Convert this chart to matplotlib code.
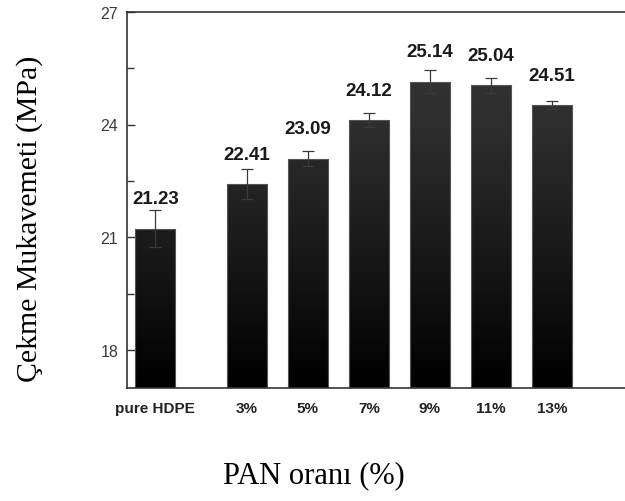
import numpy as np
import matplotlib.pyplot as plt
from matplotlib.colors import LinearSegmentedColormap

labels = ['pure HDPE', '3%', '5%', '7%', '9%', '11%', '13%']
positions = [0, 1.5, 2.5, 3.5, 4.5, 5.5, 6.5]
strength = [21.23, 22.41, 23.09, 24.12, 25.14, 25.04, 24.51]
errors = [0.49, 0.40, 0.20, 0.19, 0.30, 0.20, 0.11]

y_min, y_max = 17, 27
bar_width = 0.66

plt.rcParams['font.family'] = 'Liberation Sans'

fig = plt.figure(figsize=(6.25, 5.02), dpi=100)
ax = fig.add_axes([0.2027, 0.225, 0.7973, 0.75])

# dark gray at the top fading to black at the base
shade = LinearSegmentedColormap.from_list(
    'shade', [(0.0, '#000000'), (0.35, '#181818'), (0.7, '#2e2e2e'), (1.0, '#373737')])
grad = np.linspace(0, 1, 256).reshape(-1, 1)

bars = ax.bar(positions, strength, width=bar_width, bottom=0,
              color='none', edgecolor='#555555', linewidth=0.8, zorder=2)
for bar in bars:
    x0 = bar.get_x()
    img = ax.imshow(grad, cmap=shade, origin='lower', aspect='auto',
                    extent=[x0, x0 + bar.get_width(), y_min, y_max],
                    zorder=1, interpolation='bicubic')
    img.set_clip_path(bar)

ax.errorbar(positions, strength, yerr=errors, fmt='none', ecolor='#3a3a3a',
            elinewidth=0.9, capsize=4, capthick=0.9, zorder=3)

for x, v in zip(positions, strength):
    ax.annotate(f'{v:.2f}', (x, v), xytext=(0, 21.5), textcoords='offset points',
                ha='center', va='center', fontsize=13.5, fontweight='bold',
                color='#1a1a1a')

ax.set_xlim(-0.47, 7.70)
ax.set_ylim(y_min, y_max)
ax.set_xticks(positions)
ax.set_xticklabels(labels, fontsize=11, fontweight='bold', color='#222222')
ax.set_yticks([18, 21, 24, 27])
ax.set_yticks([19.5, 22.5, 25.5], minor=True)
ax.tick_params(axis='x', length=0, pad=9)
ax.tick_params(axis='y', which='both', direction='in', length=6, width=1,
               color='#333333', labelsize=11.5, labelcolor='#3a3a3a', pad=6)
ax.tick_params(axis='y', which='minor', length=5)

for side in ['left', 'top', 'bottom']:
    ax.spines[side].set_color('#333333')
    ax.spines[side].set_linewidth(1.2)
ax.spines['right'].set_visible(False)

fig.text(0.048, 0.564, 'Çekme Mukavemeti (MPa)', rotation=90, ha='center',
         va='center', fontsize=21.5, family='Liberation Serif')
fig.text(0.502, 0.052, 'PAN oranı (%)', ha='center', va='center',
         fontsize=22, family='Liberation Serif')

fig.savefig('out.png', dpi=100)
